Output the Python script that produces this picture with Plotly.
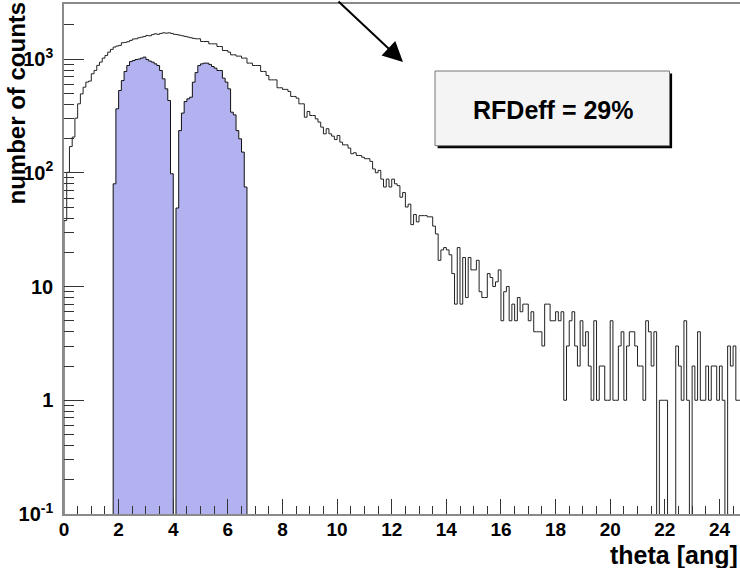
import plotly.graph_objects as go

# ---------------- data ----------------
bin_width = 0.1  # theta [ang]

# all events, bins starting at theta = 0
counts_all = [
    38, 101, 170, 206, 302, 404, 494, 566, 627, 640,
    742, 794, 880, 940, 1019, 1076, 1151, 1216, 1274, 1300,
    1318, 1391, 1400, 1420, 1458, 1500, 1507, 1540, 1559, 1580,
    1612, 1600, 1640, 1667, 1650, 1680, 1700, 1690, 1700, 1680,
    1650, 1640, 1620, 1600, 1580, 1560, 1540, 1520, 1507, 1507,
    1427, 1427, 1427, 1361, 1361, 1361, 1289, 1289, 1189, 1189,
    1151, 1089, 1089, 1061, 1061, 1019, 1019, 921, 921, 877,
    877, 877, 778, 778, 717, 656, 656, 656, 559, 559,
    541, 541, 519, 469, 469, 453, 404, 404, 308, 346,
    319, 319, 298, 279, 252, 220, 244, 220, 210, 196,
    213, 186, 176, 176, 165, 147, 150, 142, 142, 137,
    133, 133, 126, 108, 100, 105, 88, 75, 88, 75,
    88, 80, 77, 61, 67, 50, 53, 35, 43, 37,
    42, 42, 42, 41, 41, 34, 29, 17, 21, 22,
    21, 19, 13, 7, 22, 7, 18, 8, 18, 14,
    14, 17, 9, 8, 8, 13, 12, 10, 11, 14,
    5, 9, 10, 5, 7, 5, 8, 6, 7, 7,
    5, 6, 4, 4, 4, 3, 7, 7, 5, 5,
    6, 5, 6, 1, 3, 5, 6, 3, 2, 5,
    3, 4, 2, 1, 5, 1, 2, 2, 1, 1,
    5, 1, 1, 3, 4, 1, 3, 4, 4, 3,
    2, 2, 1, 5, 4, 2, 4, 0, 1, 1,
    1, 0, 0, 0, 3, 2, 1, 5, 1, 0,
    2, 1, 4, 1, 1, 2, 1, 2, 2, 1,
    2, 1, 0, 3, 2, 3, 1, 1,
]

# selected events (filled), first bin index
sel_first_bin = 18
counts_sel = [
    80, 365, 529, 647, 777, 877, 950, 970, 990, 1000,
    1019, 1040, 990, 960, 940, 907, 877, 793, 670, 547,
    432, 98, 0, 49, 235, 335, 423, 447, 462, 627,
    760, 877, 907, 921, 921, 897, 859, 831, 793, 793,
    679, 627, 547, 341, 323, 235, 199, 152, 75,
]

x_major_ticks = list(range(0, 25, 2))
y_tick_vals = [0.1, 1, 10, 100, 1000]
y_tick_text = ["10<sup>-1</sup>", "1", "10", "10<sup>2</sup>", "10<sup>3</sup>"]
y_minor_vals = [m * d for d in (0.1, 1, 10, 100) for m in range(2, 10)] + [2000, 3000]

box_text = "RFDeff = 29%"
x_title = "theta [ang]"
y_title = "number of counts"

# ---------------- geometry ----------------
W, H = 740, 568
L, R, T, B = 64, 0, 4, 54
FLOOR = 1e-3  # empty bins drop below the axis


def pxx(px):
    return (px - L) / (W - L - R)


def pxy(py):
    return (H - B - py) / (H - T - B)


def step_xy(first_bin, counts, width):
    xs = [first_bin * width]
    ys = [FLOOR]
    for i, c in enumerate(counts):
        xs.append((first_bin + i) * width)
        ys.append(c if c > 0 else FLOOR)
    end = (first_bin + len(counts)) * width
    xs += [end, end]
    ys += [counts[-1] if counts[-1] > 0 else FLOOR, FLOOR]
    return xs, ys


fig = go.Figure()

xs, ys = step_xy(sel_first_bin, counts_sel, bin_width)
fig.add_trace(go.Scatter(
    x=xs, y=ys, mode="lines", line=dict(shape="hv", color="#111111", width=1),
    fill="toself", fillcolor="rgb(178,178,240)", hoverinfo="skip", showlegend=False))

xs, ys = step_xy(0, counts_all, bin_width)
fig.add_trace(go.Scatter(
    x=xs, y=ys, mode="lines", line=dict(shape="hv", color="#222222", width=1),
    hoverinfo="skip", showlegend=False))

xtickfont = dict(family="Liberation Sans", size=19, color="black", weight="bold")
ytickfont = dict(family="Liberation Sans", size=20, color="black", weight="bold")

fig.update_xaxes(
    range=[0, (W - L - R) / 27.31], tickmode="array", tickvals=x_major_ticks,
    ticks="inside", ticklen=15, tickwidth=1, tickcolor="#333333",
    showline=True, linecolor="#8a8a8a", linewidth=1.5, mirror=True,
    showgrid=False, zeroline=False, tickfont=xtickfont, ticklabelstandoff=-3,
    minor=dict(dtick=0.5, tick0=0, ticks="inside", ticklen=8, tickwidth=1,
               tickcolor="#333333", showgrid=False),
)
fig.update_yaxes(
    type="log", range=[-1, 3.484], tickmode="array", tickvals=y_tick_vals,
    ticktext=y_tick_text, ticks="inside", ticklen=20, tickwidth=1,
    tickcolor="#333333", showline=True, linecolor="#8a8a8a", linewidth=1.5,
    showgrid=False, zeroline=False, tickfont=ytickfont, ticklabelstandoff=5,
    minor=dict(tickmode="array", tickvals=y_minor_vals, ticks="inside",
               ticklen=10, tickwidth=1, tickcolor="#333333", showgrid=False),
)

# text box with shadow
bx0, by0, bx1, by1 = 435, 71, 669.5, 145.7
sh = 2.6
fig.add_shape(type="rect", xref="paper", yref="paper",
              x0=pxx(bx0 + sh), x1=pxx(bx1 + sh), y0=pxy(by1 + sh), y1=pxy(by0 + sh),
              fillcolor="black", line=dict(width=0), layer="above")
fig.add_shape(type="rect", xref="paper", yref="paper",
              x0=pxx(bx0), x1=pxx(bx1), y0=pxy(by1), y1=pxy(by0),
              fillcolor="#f4f4f4", line=dict(color="#777777", width=1), layer="above")

annot_font = dict(family="Liberation Sans", color="black", weight="bold")
fig.add_annotation(xref="paper", yref="paper", x=pxx(552.5), y=pxy(110),
                   text=box_text, showarrow=False, xanchor="center", yanchor="middle",
                   font=dict(size=25, **annot_font))

# arrow
fig.add_annotation(xref="paper", yref="paper", x=pxx(403), y=pxy(62),
                   ax=-66, ay=-72, text="", showarrow=True, arrowhead=2,
                   arrowsize=2, arrowwidth=2, arrowcolor="black")

# axis titles
fig.add_annotation(xref="paper", yref="paper", x=pxx(16), y=pxy(0),
                   text=y_title, textangle=-90, showarrow=False,
                   xanchor="center", yanchor="top", font=dict(size=24, **annot_font))
fig.add_annotation(xref="paper", yref="paper", x=1.0, y=pxy(555),
                   text=x_title, showarrow=False, xanchor="right", yanchor="middle",
                   font=dict(size=25, **annot_font))

fig.update_layout(
    width=W, height=H, margin=dict(l=L, r=R, t=T, b=B, autoexpand=False),
    plot_bgcolor="white", paper_bgcolor="white", showlegend=False,
)

fig.write_html("out.html")
